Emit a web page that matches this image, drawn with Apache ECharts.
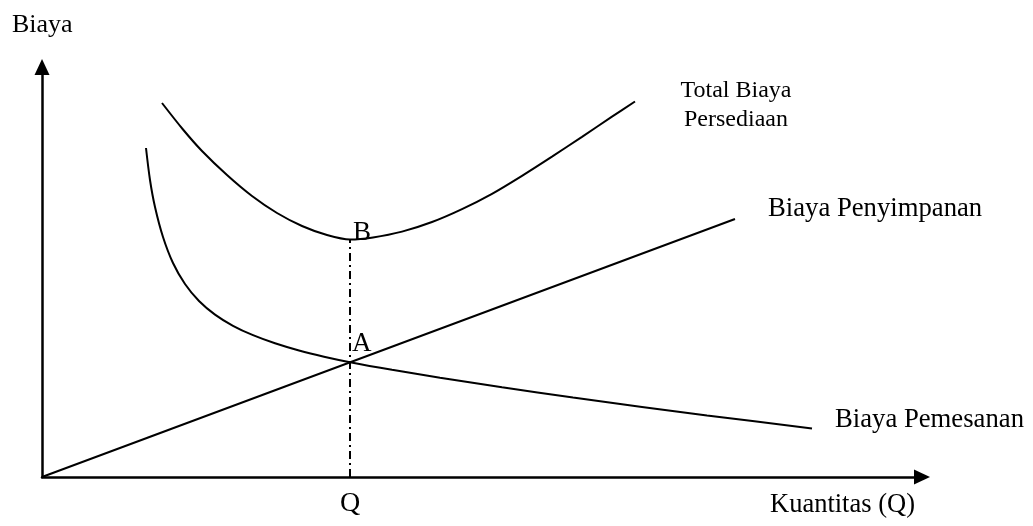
<!DOCTYPE html>
<html>
<head>
<meta charset="utf-8">
<script src="https://cdn.jsdelivr.net/npm/echarts@6/dist/echarts.min.js"></script>
<style>
html,body{margin:0;padding:0;background:#fff;}
#chart{width:1033px;height:526px;}
</style>
</head>
<body>
<div id="chart"></div>
<script>
// Values (x = quantity units, y = cost units)
var holdingCost = [[0, 0], [693, 258]];
var orderingCost = [[104, 329], [108, 297], [113, 270], [121, 240], [131, 214], [143, 193], [157, 176], [173, 162.4], [191, 151.2], [211, 141.8], [233, 133.7], [257, 126.5], [282, 120.3], [308, 114.8], [350, 107.2], [398, 99.3], [460, 89.7], [531, 79.4], [600, 70.1], [665, 61.6], [770, 48.5]];
var totalCost = [[120, 374], [141, 347.5], [160, 326], [185, 302], [210, 281], [235, 264], [260, 251], [285, 242], [308, 237.5], [331, 239.6], [360, 245.4], [390, 255], [420, 267.9], [450, 283.2], [480, 301.2], [510, 320.4], [540, 340.2], [570, 360.3], [593, 375.5]];
var eoqLine = [[308, 0], [308, 237.5]];

var yAxisTitle = 'Biaya';
var xAxisTitle = 'Kuantitas (Q)';
var totalLabel = ['Total Biaya', 'Persediaan'];
var holdingLabel = 'Biaya Penyimpanan';
var orderingLabel = 'Biaya Pemesanan';
var pointLabels = ['A', 'B', 'Q'];

var FONT = '"Liberation Serif", "Times New Roman", serif';
function txt(t, x, y, size, align) {
  return {
    type: 'text', x: x, y: y, z: 100,
    style: { text: t, font: size + 'px ' + FONT, fill: '#000', align: align || 'left', verticalAlign: 'middle', textAlign: align || 'left', textVerticalAlign: 'middle' }
  };
}

var chart = echarts.init(document.getElementById('chart'), null, { renderer: 'canvas' });
var lineCommon = { type: 'line', showSymbol: false, symbol: 'none', silent: true, animation: false };

chart.setOption({
  animation: false,
  backgroundColor: '#fff',
  grid: { left: 42, right: 111, top: 67, bottom: 49, containLabel: false },
  xAxis: {
    type: 'value', min: 0, max: 880,
    axisLine: { show: true, onZero: false, symbol: ['none', 'triangle'], symbolSize: [15, 16], lineStyle: { color: '#000', width: 2.5 } },
    axisTick: { show: false }, axisLabel: { show: false }, splitLine: { show: false }
  },
  yAxis: {
    type: 'value', min: 0, max: 410,
    axisLine: { show: true, onZero: false, symbol: ['none', 'triangle'], symbolSize: [15, 16], lineStyle: { color: '#000', width: 2.5 } },
    axisTick: { show: false }, axisLabel: { show: false }, splitLine: { show: false }
  },
  series: [
    Object.assign({}, lineCommon, { name: holdingLabel, data: holdingCost, lineStyle: { color: '#000', width: 2 } }),
    Object.assign({}, lineCommon, { name: orderingLabel, data: orderingCost, smooth: 0.3, lineStyle: { color: '#000', width: 2 } }),
    Object.assign({}, lineCommon, { name: totalLabel.join(' '), data: totalCost, smooth: 0.3, lineStyle: { color: '#000', width: 2 } }),
    Object.assign({}, lineCommon, { name: 'Q', data: eoqLine, lineStyle: { color: '#000', width: 2, type: [8, 4, 2, 4] } })
  ],
  graphic: [
    txt(yAxisTitle, 12, 25, 26),
    txt(totalLabel[0], 736, 91, 24, 'center'),
    txt(totalLabel[1], 736, 120, 24, 'center'),
    txt(holdingLabel, 768, 209, 26.7),
    txt(orderingLabel, 835, 420, 26.7),
    txt(xAxisTitle, 770, 505, 26.5),
    txt(pointLabels[0], 352, 344, 27),
    txt(pointLabels[1], 353, 233, 27),
    txt(pointLabels[2], 350, 504, 28, 'center')
  ]
});
</script>
</body>
</html>
